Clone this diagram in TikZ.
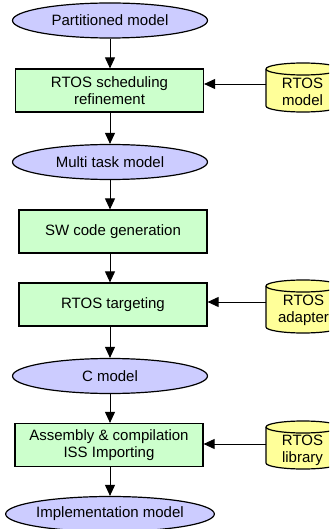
\documentclass[tikz,border=0pt]{standalone}
\usepackage{fontspec}
\setmainfont{Liberation Sans}
\usetikzlibrary{arrows.meta,shapes.geometric}
\definecolor{ellfill}{HTML}{CCCCFF}
\definecolor{boxfill}{HTML}{CCFFCC}
\definecolor{cylfill}{HTML}{FFFF99}
\tikzset{
  x=1pt,y=1pt,
  every node/.style={font=\fontsize{15}{17}\selectfont, inner sep=0pt},
  ell/.style={ellipse, draw, line width=1.2pt, fill=ellfill, minimum width=195pt, minimum height=35pt},
  stepbox/.style={rectangle, draw, line width=1.2pt, fill=boxfill, minimum width=188pt, minimum height=43pt, align=center},
  cyl/.style={draw, line width=1.2pt, fill=cylfill},
  cyltext/.style={align=center},
  arr/.style={line width=0.9pt, -{Triangle[length=11pt,width=10pt]}}
}
\newcommand{\mycyl}[3]{% x left, y top, y bottom
  \path[cyl] (#1,{-(#2)-6}) -- (#1,{-(#3)+6}) arc(180:360:37 and 6) -- ({#1+74},{-(#2)-6}) arc(0:180:37 and 6) -- cycle;
  \draw[line width=1.2pt] (#1,{-(#2)-6}) arc(180:360:37 and 6);
}
\begin{document}
\begin{tikzpicture}
\useasboundingbox (0,0) rectangle (329,-529);
\begin{scope}
\clip (0,0) rectangle (329,-529);
% main flow
\node[ell] (e1) at (110,-20.5) {Partitioned model};
\node[stepbox] (b1) at (109.5,-90.5) {RTOS scheduling\\refinement};
\node[ell] (e2) at (110,-162) {Multi task model};
\node[stepbox] (b2) at (113,-231.5) {SW code generation};
\node[stepbox] (b3) at (113,-304.5) {RTOS targeting};
\node[ell] (e3) at (110,-376) {C model};
\node[stepbox] (b4) at (109,-445) {Assembly \& compilation\\ISS Importing};
\node[ell] (e4) at (110,-514) {Implementation model};
% cylinders
\mycyl{266}{63}{112}
\mycyl{266}{280}{333}
\mycyl{266}{421}{469}
\node[cyltext] (d1) at (302.5,-92) {RTOS\\model};
\node[cyltext] (d2) at (303.5,-310) {RTOS\\adapter};
\node[cyltext] (d3) at (302.5,-450) {RTOS\\library};
\coordinate (c1) at (266,-84);
\coordinate (c2) at (266,-302);
\coordinate (c3) at (266,-444);
% connectors
\draw[arr] (e1.south) -- (e1.south |- b1.north);
\draw[arr] (e1.south |- b1.south) -- (e2.north);
\draw[arr] (e2.south) -- (e2.south |- b2.north);
\draw[arr] (e2.south |- b2.south) -- (e2.south |- b3.north);
\draw[arr] (e3.north |- b3.south) -- (e3.north);
\draw[arr] (e3.south) -- (e3.south |- b4.north);
\draw[arr] (e4.north |- b4.south) -- (e4.north);
\draw[arr] (c1) -- (c1 -| b1.east);
\draw[arr] (c2) -- (c2 -| b3.east);
\draw[arr] (c3) -- (c3 -| b4.east);
\end{scope}
\end{tikzpicture}
\end{document}
